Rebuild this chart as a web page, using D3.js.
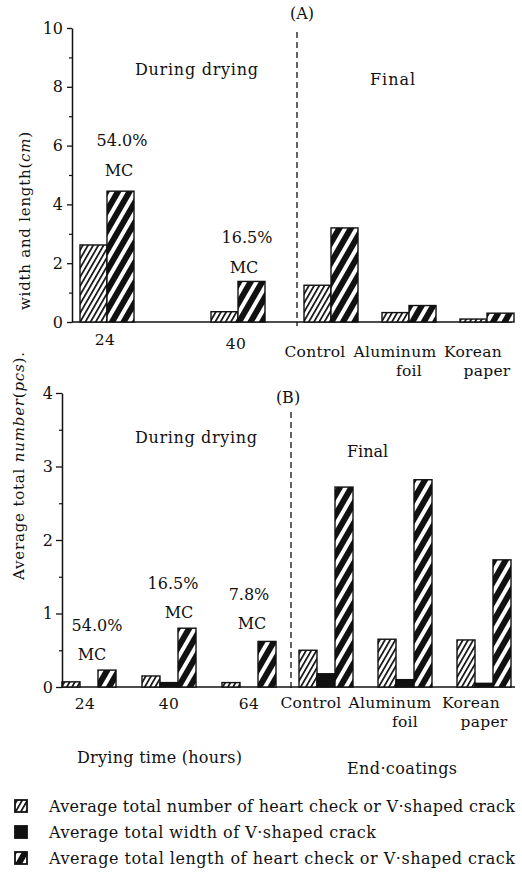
<!DOCTYPE html>
<html>
<head>
<meta charset="utf-8">
<script src="https://cdn.jsdelivr.net/npm/d3@7"></script>
<style>
  html, body { margin: 0; padding: 0; background: #fff; }
  svg { display: block; }
  text { font-family: "DejaVu Serif", "Liberation Serif", serif; fill: #111; }
</style>
</head>
<body>
<svg id="chart" width="522" height="876"></svg>
<script>
// ---------------- DATA ----------------
// Panel (A): crack width and length (cm)
const A_drying = ["24", "40"];
const A_final = ["Control", "Aluminum foil", "Korean paper"];
const A_light = [2.62, 0.35, 1.25, 0.32, 0.1];   // light-hatched bars
const A_dark  = [4.45, 1.38, 3.2, 0.56, 0.3];    // dark-hatched bars
const A_yTicks = [0, 2, 4, 6, 8, 10];
const A_yMinor = [1, 3, 5, 7, 9];
const A_notes = ["54.0%", "16.5%"];

// Panel (B): average total number (pcs)
const B_drying = ["24", "40", "64"];
const B_final = ["Control", "Aluminum foil", "Korean paper"];
const B_number = [0.07, 0.15, 0.06, 0.5, 0.65, 0.64];   // light hatched
const B_width  = [0, 0.06, 0, 0.18, 0.1, 0.05];          // solid black
const B_length = [0.23, 0.8, 0.62, 2.72, 2.82, 1.73];    // dark hatched
const B_yTicks = [0, 1, 2, 3, 4];
const B_yMinor = [0.5, 1.5, 2.5, 3.5];
const B_notes = ["54.0%", "16.5%", "7.8%"];

const legendLabels = [
  "Average total number of heart check or V\u00b7shaped crack",
  "Average total width of V\u00b7shaped crack",
  "Average total length of heart check or V\u00b7shaped crack"
];

// ---------------- SETUP ----------------
const svg = d3.select("#chart");
const defs = svg.append("defs");

const light = defs.append("pattern").attr("id", "lightHatch")
  .attr("patternUnits", "userSpaceOnUse").attr("width", 4.5).attr("height", 4.5)
  .attr("patternTransform", "rotate(30)");
light.append("rect").attr("width", 4.5).attr("height", 4.5).attr("fill", "#fff");
light.append("rect").attr("x", 0).attr("width", 1.7).attr("height", 4.5).attr("fill", "#111");

const dark = defs.append("pattern").attr("id", "darkHatch")
  .attr("patternUnits", "userSpaceOnUse").attr("width", 10).attr("height", 10)
  .attr("patternTransform", "rotate(30)");
dark.append("rect").attr("width", 10).attr("height", 10).attr("fill", "#111");
dark.append("rect").attr("x", 1).attr("width", 4).attr("height", 10).attr("fill", "#fff");

const FONT = 16;

function yAxis(g, y, ticks, minor, size, pad) {
  g.call(d3.axisLeft(y).tickValues(ticks).tickSize(size).tickSizeOuter(0)
      .tickPadding(pad).tickFormat(d3.format("d")));
  g.selectAll("text").attr("font-size", FONT).attr("font-family", "DejaVu Serif").attr("fill", "#111");
  g.selectAll("line").attr("stroke", "#111").attr("stroke-width", 1.3);
  g.select(".domain").attr("stroke", "#111").attr("stroke-width", 1.5);
  const m = g.append("g").call(d3.axisLeft(y).tickValues(minor).tickSize(3).tickFormat(""));
  m.select(".domain").remove();
  m.selectAll("line").attr("stroke", "#111").attr("stroke-width", 1.2);
}

// category label: one text element, second word on a new line
function catLabel(g, x, y, label, dxFirst) {
  const parts = label.split(" ");
  const t = g.append("text").attr("y", y).attr("text-anchor", "middle").attr("font-size", 15.5)
    .attr("letter-spacing", 0.3);
  parts.forEach((p, i) => {
    t.append("tspan").attr("x", x + (i === 0 ? dxFirst : 0)).attr("dy", i === 0 ? 0 : 18.5).text(p);
  });
}

function dashed(x, y1, y2) {
  svg.append("line").attr("x1", x).attr("x2", x).attr("y1", y1).attr("y2", y2)
    .attr("stroke", "#111").attr("stroke-width", 1.3).attr("stroke-dasharray", "6,4");
}

// ---------------- PANEL A ----------------
{
  const yA = d3.scaleLinear().domain([0, 10]).range([322, 28]);
  const xDry = d3.scalePoint().domain(A_drying).range([107, 238]);
  const xFin = d3.scalePoint().domain(A_final).range([331, 487]);
  const cats = A_drying.concat(A_final);
  const xc = c => A_drying.includes(c) ? xDry(c) : xFin(c);
  const bw = 27;
  const g = svg.append("g");

  g.append("line").attr("x1", 72).attr("x2", 512).attr("y1", yA(0)).attr("y2", yA(0))
    .attr("stroke", "#111").attr("stroke-width", 1.6);

  g.selectAll("rect.a1").data(cats).join("rect").attr("class", "a1")
    .attr("x", c => xc(c) - bw).attr("width", bw)
    .attr("y", (c, i) => yA(A_light[i])).attr("height", (c, i) => yA(0) - yA(A_light[i]))
    .attr("fill", "url(#lightHatch)").attr("stroke", "#111").attr("stroke-width", 1.4);
  g.selectAll("rect.a2").data(cats).join("rect").attr("class", "a2")
    .attr("x", c => xc(c)).attr("width", bw)
    .attr("y", (c, i) => yA(A_dark[i])).attr("height", (c, i) => yA(0) - yA(A_dark[i]))
    .attr("fill", "url(#darkHatch)").attr("stroke", "#111").attr("stroke-width", 1.4);

  yAxis(g.append("g").attr("transform", "translate(72,0)"), yA, A_yTicks, A_yMinor, 5, 4);

  A_drying.forEach(c => catLabel(g, xc(c), 345 + (c === "40" ? 4 : 0), c, -2));
  A_final.forEach(c => catLabel(g, xc(c), 357, c, c === "Control" ? -16 : -14));

  const noteY = [6.0, 2.7];
  A_notes.forEach((t, i) => {
    const cx = xDry(A_drying[i]) + (i === 0 ? 15 : 9);
    g.append("text").attr("x", cx).attr("y", yA(noteY[i])).attr("text-anchor", "middle")
      .attr("font-size", FONT).text(t);
    g.append("text").attr("x", cx - 3).attr("y", yA(noteY[i]) + 30).attr("text-anchor", "middle")
      .attr("font-size", FONT).text("MC");
  });

  g.append("text").attr("x", 135).attr("y", 75).attr("font-size", FONT)
    .attr("textLength", 123).attr("lengthAdjust", "spacing").text("During  drying");
  g.append("text").attr("x", 370).attr("y", 85).attr("font-size", FONT)
    .attr("textLength", 45).attr("lengthAdjust", "spacing").text("Final");
  g.append("text").attr("x", 302).attr("y", 19).attr("text-anchor", "middle")
    .attr("font-size", FONT).text("(A)");

  dashed(297, 32, 326);

  const yl = g.append("text").attr("transform", "translate(30,221) rotate(-90)")
    .attr("text-anchor", "middle").attr("font-size", 15)
    .attr("textLength", 178).attr("lengthAdjust", "spacing");
  yl.append("tspan").text("width and length(");
  yl.append("tspan").attr("font-style", "italic").text("cm");
  yl.append("tspan").text(")");
}

// ---------------- PANEL B ----------------
{
  const yB = d3.scaleLinear().domain([0, 4]).range([687, 393]);
  const xDry = d3.scalePoint().domain(B_drying).range([89, 249]);
  const xFin = d3.scalePoint().domain(B_final).range([326, 484]);
  const cats = B_drying.concat(B_final);
  const xc = c => B_drying.includes(c) ? xDry(c) : xFin(c);
  const bw = 18;
  const g = svg.append("g");

  g.append("line").attr("x1", 62).attr("x2", 515).attr("y1", yB(0)).attr("y2", yB(0))
    .attr("stroke", "#111").attr("stroke-width", 1.6);

  const series = [
    { vals: B_number, off: -27, fill: "url(#lightHatch)" },
    { vals: B_width, off: -9, fill: "#111" },
    { vals: B_length, off: 9, fill: "url(#darkHatch)" }
  ];
  series.forEach((s, k) => {
    g.selectAll("rect.b" + k).data(cats.filter((c, i) => s.vals[i] > 0)).join("rect")
      .attr("class", "b" + k)
      .attr("x", c => xc(c) + s.off).attr("width", bw)
      .attr("y", c => yB(s.vals[cats.indexOf(c)]))
      .attr("height", c => yB(0) - yB(s.vals[cats.indexOf(c)]))
      .attr("fill", s.fill).attr("stroke", "#111").attr("stroke-width", 1.4);
  });

  yAxis(g.append("g").attr("transform", "translate(62,0)"), yB, B_yTicks, B_yMinor, 6, 3);

  B_drying.forEach(c => catLabel(g, xc(c) + (c === "24" ? -4 : 0), 709, c, 0));
  B_final.forEach(c => catLabel(g, xc(c), 708, c, c === "Korean paper" ? -13 : -15));

  const noteY = [0.76, 1.34, 1.19];
  const noteDx = [8, 4, 0];
  const mcDx = [3, 10, 3];
  B_notes.forEach((t, i) => {
    const cx = xDry(B_drying[i]) + noteDx[i];
    g.append("text").attr("x", cx).attr("y", yB(noteY[i])).attr("text-anchor", "middle")
      .attr("font-size", FONT).text(t);
    g.append("text").attr("x", xDry(B_drying[i]) + mcDx[i]).attr("y", yB(noteY[i]) + 29)
      .attr("text-anchor", "middle").attr("font-size", FONT).text("MC");
  });

  g.append("text").attr("x", 135).attr("y", 443).attr("font-size", FONT)
    .attr("textLength", 122).attr("lengthAdjust", "spacing").text("During  drying");
  g.append("text").attr("x", 347).attr("y", 457).attr("font-size", FONT)
    .attr("textLength", 41).attr("lengthAdjust", "spacing").text("Final");
  g.append("text").attr("x", 288).attr("y", 403).attr("text-anchor", "middle")
    .attr("font-size", FONT).text("(B)");

  dashed(291, 412, 689);

  const yl = g.append("text").attr("transform", "translate(24,466) rotate(-90)")
    .attr("text-anchor", "middle").attr("font-size", 15)
    .attr("textLength", 228).attr("lengthAdjust", "spacing");
  yl.append("tspan").text("Average total ");
  yl.append("tspan").attr("font-style", "italic").text("number");
  yl.append("tspan").text("(");
  yl.append("tspan").attr("font-style", "italic").text("pcs");
  yl.append("tspan").text(").");

  g.append("text").attr("x", 77).attr("y", 763).attr("font-size", FONT)
    .attr("textLength", 165).attr("lengthAdjust", "spacing").text("Drying time (hours)");
  g.append("text").attr("x", 347).attr("y", 774).attr("font-size", FONT)
    .attr("textLength", 110).attr("lengthAdjust", "spacing").text("End\u00b7coatings");
}

// ---------------- LEGEND ----------------
{
  const fills = ["url(#lightHatch)", "#111", "url(#darkHatch)"];
  const widths = [466, 327, 466];
  const g = svg.append("g");
  legendLabels.forEach((t, i) => {
    const yb = 812 + i * 26;
    g.append("rect").attr("x", 15).attr("y", yb - 12).attr("width", 12).attr("height", 12)
      .attr("fill", fills[i]).attr("stroke", "#111").attr("stroke-width", 1.8);
    g.append("text").attr("x", 49).attr("y", yb).attr("font-size", FONT)
      .attr("textLength", widths[i]).attr("lengthAdjust", "spacing").text(t);
  });
}
</script>
</body>
</html>
